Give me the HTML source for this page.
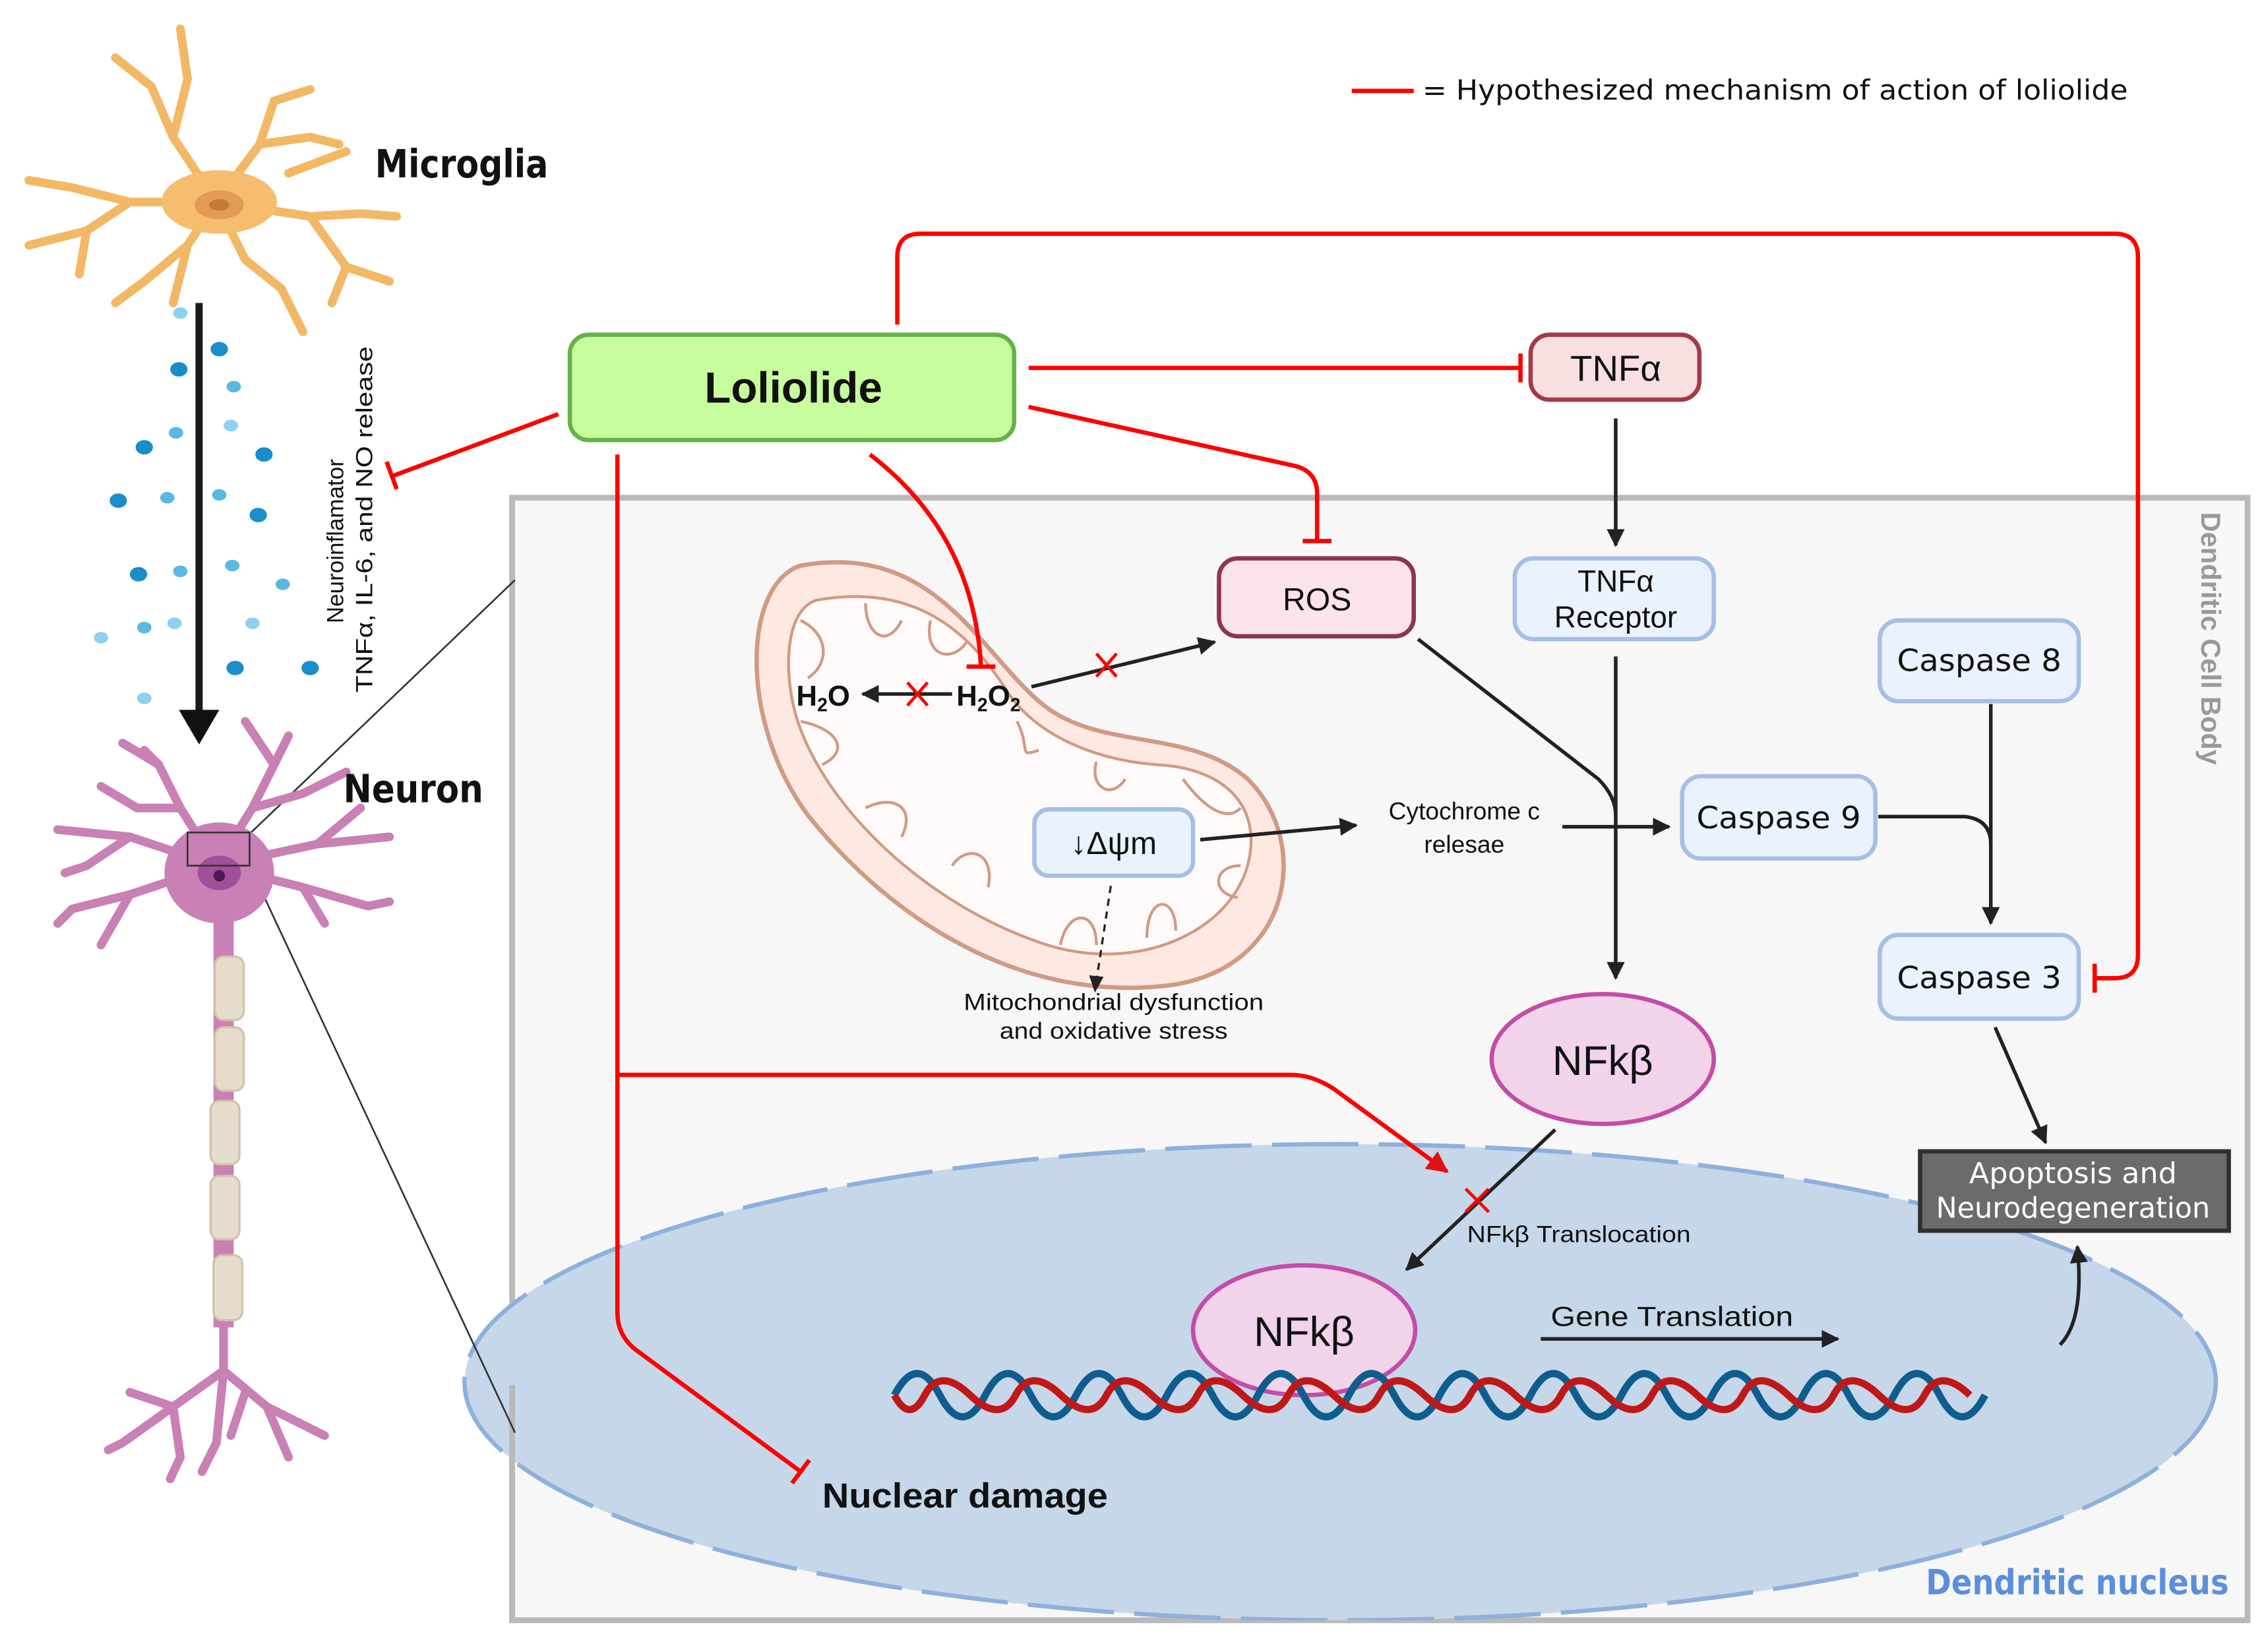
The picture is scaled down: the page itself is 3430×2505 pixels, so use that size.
<!DOCTYPE html>
<html><head><meta charset="utf-8"><style>
html,body{margin:0;padding:0;background:#fff}
svg{display:block}
text{font-family:"Liberation Sans","DejaVu Sans",sans-serif}
.w{font-family:"DejaVu Sans","Liberation Sans",sans-serif}
</style></head><body>
<svg width="3430" height="2505" viewBox="0 0 1568 1145" preserveAspectRatio="none" xmlns="http://www.w3.org/2000/svg">
<defs>
<marker id="ab" viewBox="0 0 10 10" refX="9" refY="5" markerWidth="5" markerHeight="5" orient="auto-start-reverse" markerUnits="strokeWidth"><path d="M0,0 L10,5 L0,10 z" fill="#222"/></marker>
<marker id="ar" viewBox="0 0 10 10" refX="9" refY="5" markerWidth="5" markerHeight="5" orient="auto" markerUnits="strokeWidth"><path d="M0,0 L10,5 L0,10 z" fill="#e01010"/></marker>
<clipPath id="pc"><rect x="300" y="345" width="1258" height="778"/></clipPath>
</defs>

<!-- legend -->
<line x1="937" y1="63" x2="980" y2="63" stroke="#ff0000" stroke-width="3"/>
<text class="w" x="986" y="69" font-size="19" fill="#111" textLength="489" lengthAdjust="spacingAndGlyphs">= Hypothesized mechanism of action of loliolide</text>

<!-- panel -->
<rect x="355" y="345" width="1203" height="778" fill="#f7f7f7" stroke="#b9b9b9" stroke-width="4"/>
<g clip-path="url(#pc)">
<ellipse cx="929" cy="958" rx="607" ry="165" fill="#c6d7ea" stroke="#8fb0dc" stroke-width="3" stroke-dasharray="60,14"/>
</g>
<line x1="355" y1="960" x2="355" y2="1123" stroke="#b9b9b9" stroke-width="4"/>
<text x="1526" y="355" font-size="19" fill="#999" font-weight="bold" transform="rotate(90 1526 355)">Dendritic Cell Body</text>
<text class="w" x="1335" y="1105" font-size="24" fill="#5b8fdb" font-weight="bold" textLength="210" lengthAdjust="spacingAndGlyphs">Dendritic nucleus</text>

<!-- zoom lines -->
<line x1="173" y1="578" x2="357" y2="402" stroke="#333" stroke-width="1.2"/>
<line x1="173" y1="600" x2="357" y2="993" stroke="#333" stroke-width="1.2"/>

<!-- microglia -->
<g stroke="#f2b866" stroke-width="6" stroke-linecap="round" fill="none">
<path d="M150,140 L120,95 L105,60 L80,40"/><path d="M120,95 L130,55 L125,20"/>
<path d="M150,140 L180,100 L190,70 L215,62"/><path d="M180,100 L215,95 L235,100"/>
<path d="M150,140 L90,140 L50,130 L20,125"/><path d="M90,140 L60,160 L20,170"/><path d="M60,160 L55,190"/>
<path d="M150,140 L215,150 L250,148 L275,150"/><path d="M215,150 L240,185 L270,195"/><path d="M240,185 L230,210"/><path d="M200,120 L240,105"/>
<path d="M150,140 L130,170 L100,195 L80,210"/><path d="M150,140 L170,180 L195,200 L210,230"/><path d="M130,170 L120,210"/>
</g>
<ellipse cx="152" cy="140" rx="40" ry="22" fill="#f6bd6e"/>
<ellipse cx="152" cy="142" rx="17" ry="10" fill="#e29b52"/>
<ellipse cx="152" cy="142" rx="7" ry="4" fill="#c67a36"/>
<text class="w" x="260" y="123" font-size="27" fill="#111" font-weight="bold" textLength="120" lengthAdjust="spacingAndGlyphs">Microglia</text>

<!-- dots -->
<g fill="#1b8dc9">
<ellipse cx="152" cy="242" rx="6" ry="5"/><ellipse cx="124" cy="256" rx="6" ry="5"/><ellipse cx="100" cy="310" rx="6" ry="5"/><ellipse cx="183" cy="315" rx="6" ry="5"/><ellipse cx="82" cy="347" rx="6" ry="5"/><ellipse cx="179" cy="357" rx="6" ry="5"/><ellipse cx="96" cy="398" rx="6" ry="5"/><ellipse cx="163" cy="463" rx="6" ry="5"/><ellipse cx="215" cy="463" rx="6" ry="5"/>
</g>
<g fill="#5ab8e2">
<ellipse cx="162" cy="268" rx="5" ry="4"/><ellipse cx="122" cy="300" rx="5" ry="4"/><ellipse cx="116" cy="345" rx="5" ry="4"/><ellipse cx="152" cy="343" rx="5" ry="4"/><ellipse cx="161" cy="392" rx="5" ry="4"/><ellipse cx="125" cy="396" rx="5" ry="4"/><ellipse cx="196" cy="405" rx="5" ry="4"/><ellipse cx="100" cy="435" rx="5" ry="4"/>
</g>
<g fill="#8fd0ee">
<ellipse cx="125" cy="217" rx="5" ry="4"/><ellipse cx="160" cy="295" rx="5" ry="4"/><ellipse cx="70" cy="442" rx="5" ry="4"/><ellipse cx="121" cy="432" rx="5" ry="4"/><ellipse cx="175" cy="432" rx="5" ry="4"/><ellipse cx="100" cy="484" rx="5" ry="4"/>
</g>
<line x1="138" y1="210" x2="138" y2="500" stroke="#1a1a1a" stroke-width="5"/>
<path d="M124,492 L152,492 L138,516 z" fill="#111"/>

<text x="0" y="0" font-size="16" fill="#111" transform="translate(238,432) rotate(-90)">Neuroinflamator</text>
<text x="0" y="0" font-size="16" fill="#111" transform="translate(258,480) rotate(-90)" textLength="240" lengthAdjust="spacingAndGlyphs">TNFα, IL-6, and NO release</text>

<!-- neuron -->
<g stroke="#c880b5" stroke-width="6" stroke-linecap="round" fill="none">
<path d="M150,600 L125,560 L110,530 L85,515"/><path d="M110,530 L100,520"/><path d="M125,560 L95,560 L70,545"/>
<path d="M150,600 L175,560 L190,530 L200,510"/><path d="M175,560 L210,550 L240,535"/><path d="M190,530 L170,500"/>
<path d="M150,600 L90,580 L40,575"/><path d="M90,580 L60,600 L45,605"/><path d="M150,600 L90,620 L50,630 L40,640"/><path d="M90,620 L70,655"/>
<path d="M150,600 L220,585 L270,580"/><path d="M150,600 L210,615 L255,628 L270,625"/><path d="M210,615 L225,640"/><path d="M220,585 L250,560"/>
<path d="M155,910 L155,950 L120,975 L85,1000 L75,1005"/><path d="M120,975 L90,965"/><path d="M155,950 L185,975 L225,995"/><path d="M185,975 L200,1010"/><path d="M155,950 L150,1000 L140,1020"/><path d="M120,975 L125,1010 L118,1025"/><path d="M170,965 L160,995"/>
</g>
<ellipse cx="152" cy="605" rx="38" ry="35" fill="#c880b5"/>
<ellipse cx="152" cy="605" rx="15" ry="12" fill="#a0509a"/>
<circle cx="152" cy="607" r="4" fill="#4a1a50"/>
<rect x="148" y="630" width="14" height="290" fill="#c880b5"/>
<g fill="#e6dccc" stroke="#cfc3ad" stroke-width="1.5">
<rect x="149" y="663" width="20" height="44" rx="6"/><rect x="149" y="712" width="20" height="44" rx="6"/><rect x="146" y="763" width="20" height="44" rx="6"/><rect x="146" y="815" width="20" height="44" rx="6"/><rect x="148" y="870" width="20" height="45" rx="6"/>
</g>
<rect x="130" y="577" width="43" height="23" fill="none" stroke="#333" stroke-width="1.2"/>
<text class="w" x="238" y="556" font-size="27" fill="#111" font-weight="bold" textLength="97" lengthAdjust="spacingAndGlyphs">Neuron</text>

<!-- mitochondrion -->
<path d="M555,392 C515,405 512,500 560,565 C620,640 710,695 810,683 C895,672 910,585 865,540 C825,505 765,520 725,490 C680,455 650,375 555,392 z" fill="#fde9e1" stroke="#d19a85" stroke-width="3"/>
<path d="M566,416 C543,423 543,470 553,500 C573,560 640,625 720,653 C790,678 862,643 867,588 C870,552 842,532 802,530 C762,527 722,512 700,482 C675,442 638,403 566,416 z" fill="#fffafa" stroke="#d19a85" stroke-width="2"/>
<g fill="none" stroke="#d19a85" stroke-width="2">
<path d="M555,430 C575,440 575,460 560,470"/><path d="M600,418 C600,440 615,450 625,430"/><path d="M645,430 C640,455 660,460 670,445"/>
<path d="M555,500 C580,505 590,520 570,530"/><path d="M600,560 C620,550 635,560 625,580"/><path d="M660,600 C670,585 690,590 685,615"/>
<path d="M705,500 C715,520 705,525 720,520"/><path d="M760,528 C755,545 770,555 780,540"/><path d="M820,540 C835,560 850,570 860,560"/>
<path d="M735,655 C740,630 760,630 760,655"/><path d="M795,650 C795,620 815,620 815,645"/><path d="M860,600 C840,600 840,620 858,622"/>
</g>

<!-- boxes -->
<rect x="395" y="232" width="308" height="73" rx="13" fill="#c8fd9e" stroke="#65b24a" stroke-width="3"/>
<text x="550" y="279" font-size="30" font-weight="bold" text-anchor="middle" fill="#111">Loliolide</text>
<rect x="1061" y="232" width="117" height="45" rx="13" fill="#f8dfe0" stroke="#a23b47" stroke-width="3"/>
<text x="1120" y="264" font-size="25" text-anchor="middle" fill="#111">TNFα</text>
<rect x="845" y="387" width="135" height="54" rx="13" fill="#fae3ea" stroke="#8e3550" stroke-width="3"/>
<text x="913" y="423" font-size="22" text-anchor="middle" fill="#111">ROS</text>
<g fill="#eaf2fd" stroke="#a7bfe6" stroke-width="3">
<rect x="1050" y="387" width="138" height="56" rx="13"/>
<rect x="1303" y="430" width="138" height="56" rx="13"/>
<rect x="1166" y="538" width="134" height="57" rx="13"/>
<rect x="1303" y="648" width="138" height="58" rx="13"/>
<rect x="717" y="561" width="110" height="46" rx="10"/>
</g>
<text x="1120" y="410" font-size="21" text-anchor="middle" fill="#111">TNFα</text>
<text x="1120" y="435" font-size="21" text-anchor="middle" fill="#111">Receptor</text>
<text class="w" x="1372" y="465" font-size="21" text-anchor="middle" fill="#111" textLength="114" lengthAdjust="spacingAndGlyphs">Caspase 8</text>
<text class="w" x="1233" y="574" font-size="21" text-anchor="middle" fill="#111" textLength="114" lengthAdjust="spacingAndGlyphs">Caspase 9</text>
<text class="w" x="1372" y="685" font-size="21" text-anchor="middle" fill="#111" textLength="114" lengthAdjust="spacingAndGlyphs">Caspase 3</text>
<text x="772" y="592" font-size="22" text-anchor="middle" fill="#111">↓Δψm</text>
<ellipse cx="1111" cy="734" rx="77" ry="45" fill="#f1d4e9" stroke="#c34ca6" stroke-width="3"/>
<text x="1111" y="745" font-size="29" text-anchor="middle" fill="#111">NFkβ</text>
<ellipse cx="904" cy="922" rx="77" ry="45" fill="#f1d4e9" stroke="#c34ca6" stroke-width="3"/>
<text x="904" y="933" font-size="29" text-anchor="middle" fill="#111">NFkβ</text>
<rect x="1331" y="798" width="214" height="55" fill="#6b6b6b" stroke="#2f2f2f" stroke-width="3"/>
<text class="w" x="1437" y="820" font-size="20" text-anchor="middle" fill="#fff" textLength="144" lengthAdjust="spacingAndGlyphs">Apoptosis and</text>
<text class="w" x="1437" y="844" font-size="20" text-anchor="middle" fill="#fff" textLength="190" lengthAdjust="spacingAndGlyphs">Neurodegeneration</text>

<!-- DNA -->
<path d="M620,967 q15.75,-30 31.5,0 t31.5,0 t31.5,0 t31.5,0 t31.5,0 t31.5,0 t31.5,0 t31.5,0 t31.5,0 t31.5,0 t31.5,0 t31.5,0 t31.5,0 t31.5,0 t31.5,0 t31.5,0 t31.5,0 t31.5,0 t31.5,0 t31.5,0 t31.5,0 t31.5,0 t31.5,0 t31.5,0" fill="none" stroke="#0e5d8e" stroke-width="5"/>
<path d="M620,967 q10.5,20 21,0 t31.5,0 t31.5,0 t31.5,0 t31.5,0 t31.5,0 t31.5,0 t31.5,0 t31.5,0 t31.5,0 t31.5,0 t31.5,0 t31.5,0 t31.5,0 t31.5,0 t31.5,0 t31.5,0 t31.5,0 t31.5,0 t31.5,0 t31.5,0 t31.5,0 t31.5,0 t31.5,0" fill="none" stroke="#c01818" stroke-width="5"/>

<!-- black connectors -->
<g stroke="#222" stroke-width="2.5" fill="none">
<line x1="1120" y1="290" x2="1120" y2="378" marker-end="url(#ab)"/>
<line x1="1120" y1="455" x2="1120" y2="678" marker-end="url(#ab)"/>
<path d="M983,443 L1108,540 Q1120,552 1120,565"/>
<line x1="832" y1="582" x2="940" y2="572" marker-end="url(#ab)"/>
<line x1="1083" y1="573" x2="1157" y2="573" marker-end="url(#ab)"/>
<path d="M1302,566 L1362,566 Q1380,568 1380,585"/>
<line x1="1380" y1="488" x2="1380" y2="640" marker-end="url(#ab)"/>
<line x1="1383" y1="712" x2="1418" y2="792" marker-end="url(#ab)"/>
<line x1="1078" y1="783" x2="975" y2="880" marker-end="url(#ab)"/>
<line x1="1068" y1="928" x2="1274" y2="928" marker-end="url(#ab)"/>
<path d="M1428,932 Q1445,915 1440,864" marker-end="url(#ab)"/>
<line x1="660" y1="481" x2="598" y2="481" marker-end="url(#ab)"/>
<line x1="715" y1="476" x2="842" y2="445" marker-end="url(#ab)"/>
</g>
<line x1="770" y1="614" x2="760" y2="680" stroke="#222" stroke-width="1.5" stroke-dasharray="5,4"/>
<path d="M755,676 L765,677 L759,688 z" fill="#222"/>

<text x="552" y="489" font-size="20" font-weight="bold" fill="#111">H<tspan font-size="13" dy="4">2</tspan><tspan dy="-4">O</tspan></text>
<text x="663" y="489" font-size="20" font-weight="bold" fill="#111">H<tspan font-size="13" dy="4">2</tspan><tspan dy="-4">O</tspan><tspan font-size="13" dy="4">2</tspan></text>
<text x="1015" y="568" font-size="17" text-anchor="middle" fill="#111">Cytochrome c</text>
<text x="1015" y="591" font-size="17" text-anchor="middle" fill="#111">relesae</text>
<text x="772" y="700" font-size="16" text-anchor="middle" fill="#111" textLength="208" lengthAdjust="spacingAndGlyphs">Mitochondrial dysfunction</text>
<text x="772" y="720" font-size="16" text-anchor="middle" fill="#111" textLength="158" lengthAdjust="spacingAndGlyphs">and oxidative stress</text>
<text x="1017" y="861" font-size="16" fill="#111" textLength="155" lengthAdjust="spacingAndGlyphs">NFkβ Translocation</text>
<text x="1075" y="919" font-size="19" fill="#111" textLength="168" lengthAdjust="spacingAndGlyphs">Gene Translation</text>
<text x="570" y="1045" font-size="24" font-weight="bold" fill="#111" textLength="198" lengthAdjust="spacingAndGlyphs">Nuclear damage</text>

<!-- red inhibitors -->
<g stroke="#ff0000" stroke-width="3" fill="none">
<path d="M622,225 L622,178 Q622,162 638,162 L1466,162 Q1482,162 1482,178 L1482,662 Q1482,678 1466,678 L1452,678"/>
<line x1="1452" y1="668" x2="1452" y2="688"/>
<line x1="713" y1="255" x2="1054" y2="255"/>
<line x1="1054" y1="245" x2="1054" y2="265"/>
<path d="M713,282 L898,323 Q913,327 913,342 L913,375"/>
<line x1="903" y1="375" x2="923" y2="375"/>
<line x1="387" y1="287" x2="272" y2="330"/>
<line x1="268" y1="320" x2="275" y2="339"/>
<path d="M603,315 Q675,370 680,462"/>
<line x1="670" y1="462" x2="690" y2="462"/>
<path d="M428,315 L428,745 L895,745 Q910,745 925,755 L1003,812" marker-end="url(#ar)"/>
<path d="M428,745 L428,910 Q428,925 440,935 L555,1020"/>
<line x1="549" y1="1028" x2="561" y2="1012"/>
</g>
<g stroke="#ff0000" stroke-width="2.2">
<line x1="629" y1="473" x2="643" y2="489"/><line x1="643" y1="473" x2="629" y2="489"/>
<line x1="760" y1="453" x2="774" y2="469"/><line x1="774" y1="453" x2="760" y2="469"/>
<line x1="1016" y1="824" x2="1032" y2="840"/><line x1="1032" y1="824" x2="1016" y2="840"/>
</g>
</svg>
</body></html>
